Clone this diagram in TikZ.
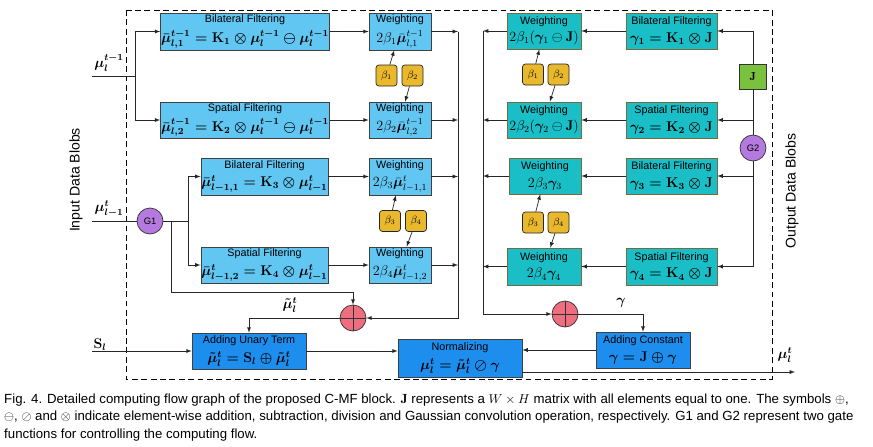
\documentclass[tikz,border=0pt]{standalone}
\usepackage{amsmath}
\usepackage{amssymb}
\usepackage{bm}
\usepackage{fontspec}
\setsansfont{Liberation Sans}
\usepackage{tikz}
\usetikzlibrary{positioning}

\definecolor{lblue}{HTML}{62C6F2}
\definecolor{tealbox}{HTML}{19BEC6}
\definecolor{dblue}{HTML}{1E8EEE}
\definecolor{betagold}{HTML}{E9B82C}
\definecolor{gatepurple}{HTML}{B57ADF}
\definecolor{pluspink}{HTML}{EE6E80}
\definecolor{jgreen}{HTML}{7AC23E}
\definecolor{tealline}{HTML}{7A6A3A}

\newcommand{\beq}[1]{{\large\boldmath$#1$}}
\newcommand{\weq}[1]{{\large$#1$}}
\newcommand{\lbl}[1]{{\large\boldmath$#1$}}

\tikzset{
    cmfbox/.style={draw=black!75, line width=0.6pt, align=center, inner sep=0.5pt,
        font=\sffamily\fontsize{9.2}{9.5}\selectfont},
    lbox/.style={cmfbox, fill=lblue},
    rbox/.style={cmfbox, fill=tealbox, draw=tealline},
    gbox/.style={cmfbox, fill=dblue},
    betabox/.style={draw=black!85, line width=0.6pt, fill=betagold, rounded corners=2.5pt,
        minimum size=0.63cm, inner sep=0pt, font=\small},
    gate/.style={circle, draw=black!80, line width=0.6pt, fill=gatepurple,
        minimum size=0.78cm, inner sep=0pt, font=\sffamily\fontsize{8}{9}\selectfont},
    plusnode/.style={circle, draw=black!80, line width=0.6pt, fill=pluspink,
        minimum size=0.78cm, inner sep=0pt,
        path picture={\draw[line width=0.6pt]
            (path picture bounding box.north) -- (path picture bounding box.south)
            (path picture bounding box.west) -- (path picture bounding box.east);}},
    jnode/.style={draw=black!80, line width=0.6pt, fill=jgreen,
        minimum width=0.81cm, minimum height=0.75cm, inner sep=0pt},
    flow/.style={->, >=latex, line width=0.6pt, draw=black!85},
    wire/.style={line width=0.6pt, draw=black!85}
}

\begin{document}
\begin{tikzpicture}[x=0.03cm, y=-0.03cm]
    \useasboundingbox (0,0) rectangle (873,446);
    \draw[dash pattern=on 5pt off 3pt, line width=0.7pt] (126,10) rectangle (772,379);

    % left half
    \node[lbox, minimum width=4.92cm, minimum height=1.11cm] (bf1) at (245,31.5)
        {Bilateral Filtering\\[3.5pt] \beq{\bar{\mu}_{l,1}^{t-1} = \mathbf{K}_1 \otimes \mu_l^{t-1} \ominus \mu_l^{t-1}}};
    \node[lbox, minimum width=1.86cm, minimum height=1.11cm] (wt1) at (400,31.5)
        {Weighting\\[3.5pt] \weq{2\beta_1\bar{\bm\mu}_{l,1}^{t-1}}};
    \node[lbox, minimum width=4.92cm, minimum height=1.08cm] (sf2) at (245,120)
        {Spatial Filtering\\[3.5pt] \beq{\bar{\mu}_{l,2}^{t-1} = \mathbf{K}_2 \otimes \mu_l^{t-1} \ominus \mu_l^{t-1}}};
    \node[lbox, minimum width=1.86cm, minimum height=1.08cm] (wt2) at (400,120)
        {Weighting\\[3.5pt] \weq{2\beta_2\bar{\bm\mu}_{l,2}^{t-1}}};
    \node[lbox, minimum width=3.75cm, minimum height=1.11cm] (bf3) at (264.5,176.5)
        {Bilateral Filtering\\[3.5pt] \beq{\bar{\mu}_{l-1,1}^{t} = \mathbf{K}_3 \otimes \mu_{l-1}^{t}}};
    \node[lbox, minimum width=1.86cm, minimum height=1.11cm] (wt3) at (400,176.5)
        {Weighting\\[3.5pt] \weq{2\beta_3\bar{\bm\mu}_{l-1,1}^{t}}};
    \node[lbox, minimum width=3.75cm, minimum height=1.08cm] (sf4) at (264.5,265)
        {Spatial Filtering\\[3.5pt] \beq{\bar{\mu}_{l-1,2}^{t} = \mathbf{K}_4 \otimes \mu_{l-1}^{t}}};
    \node[lbox, minimum width=1.86cm, minimum height=1.08cm] (wt4) at (400,265)
        {Weighting\\[3.5pt] \weq{2\beta_4\bar{\bm\mu}_{l-1,2}^{t}}};

    \node[betabox] (lb1) at (386.5,75.5) {$\beta_1$};
    \node[betabox] (lb2) at (412.5,75.5) {$\beta_2$};
    \node[betabox] (lb3) at (390,221) {$\beta_3$};
    \node[betabox] (lb4) at (416,221) {$\beta_4$};

    \node[gate] (g1) at (150,221) {G1};
    \node[plusnode] (p1) at (353,318) {};

    % right half
    \node[rbox, minimum width=2.22cm, minimum height=1.08cm] (rw1) at (544,31)
        {Weighting\\[3pt] \weq{2\beta_1(\bm\gamma_1 \ominus \mathbf{J})}};
    \node[rbox, minimum width=2.73cm, minimum height=1.08cm] (rb1) at (671.5,31)
        {Bilateral Filtering\\[4pt] \beq{\gamma_1 = \mathbf{K}_1 \otimes \mathbf{J}}};
    \node[rbox, minimum width=2.22cm, minimum height=1.08cm] (rw2) at (544,120)
        {Weighting\\[3pt] \weq{2\beta_2(\bm\gamma_2 \ominus \mathbf{J})}};
    \node[rbox, minimum width=2.73cm, minimum height=1.08cm] (rb2) at (671.5,120)
        {Spatial Filtering\\[4pt] \beq{\gamma_2 = \mathbf{K}_2 \otimes \mathbf{J}}};
    \node[rbox, minimum width=2.16cm, minimum height=1.08cm] (rw3) at (545,176)
        {Weighting\\[4pt] \weq{2\beta_3\bm\gamma_3}};
    \node[rbox, minimum width=2.73cm, minimum height=1.08cm] (rb3) at (671.5,176)
        {Bilateral Filtering\\[4pt] \beq{\gamma_3 = \mathbf{K}_3 \otimes \mathbf{J}}};
    \node[rbox, minimum width=2.22cm, minimum height=1.11cm] (rw4) at (544,266.5)
        {Weighting\\[4pt] \weq{2\beta_4\bm\gamma_4}};
    \node[rbox, minimum width=2.73cm, minimum height=1.11cm] (rb4) at (671.5,266.5)
        {Spatial Filtering\\[4pt] \beq{\gamma_4 = \mathbf{K}_4 \otimes \mathbf{J}}};

    \node[betabox] (rb1b) at (533,74.5) {$\beta_1$};
    \node[betabox] (rb2b) at (558.5,74.5) {$\beta_2$};
    \node[betabox] (rb3b) at (533,222.5) {$\beta_3$};
    \node[betabox] (rb4b) at (558.5,222.5) {$\beta_4$};

    \node[jnode] (jj) at (753,77) {$\mathbf{J}$};
    \node[gate] (g2) at (753,148) {G2};
    \node[plusnode] (p2) at (565,314) {};

    % bottom row
    \node[gbox, minimum width=3.42cm, minimum height=1.08cm] (au) at (249,351)
        {Adding Unary Term\\[4pt] \beq{\tilde{\mu}_l^t = \mathbf{S}_l \oplus \tilde{\mu}_l^t}};
    \node[gbox, minimum width=3.72cm, minimum height=1.14cm] (nm) at (460,358)
        {Normalizing\\[4pt] \beq{\mu_l^t = \tilde{\mu}_l^t \oslash \gamma}};
    \node[gbox, minimum width=2.82cm, minimum height=1.08cm] (ac) at (643,350)
        {Adding Constant\\[4pt] \beq{\gamma = \mathbf{J} \oplus \gamma}};

    % side labels
    \node[rotate=90, font=\sffamily\fontsize{12}{12}\selectfont] (inlab) at (76,180) {Input Data Blobs};
    \node[rotate=90, font=\sffamily\fontsize{12}{12}\selectfont] (outlab) at (792,191) {Output Data Blobs};

    % inputs and outputs
    \coordinate (in1) at (92,76);
    \coordinate (sp1) at (135,76);
    \coordinate (in2) at (92,221);
    \coordinate (sp2) at (188,221);
    \coordinate (c1) at (171,221);
    \coordinate (c2) at (353,292);
    \coordinate (in3) at (92,351);
    \coordinate (out) at (795,372);
    \coordinate (lbus) at (458,31.5);
    \coordinate (rbus) at (483,31);
    \node (lin1) at (109,63) {\lbl{\mu_l^{t-1}}};
    \node (lin2) at (109,209) {\lbl{\mu_{l-1}^{t}}};
    \node (lin3) at (100,345) {\lbl{\mathbf{S}_l}};
    \node (lout) at (785,355) {\lbl{\mu_l^{t}}};
    \node (lmu) at (290,305) {\lbl{\tilde{\mu}_l^{t}}};
    \node (lgam) at (621,303) {\lbl{\gamma}};

    % left connectors
    \draw[wire] (in1) -- (sp1);
    \draw[flow] (sp1) |- (bf1);
    \draw[flow] (sp1) |- (sf2);
    \draw[wire] (in2) -- (g1);
    \draw[wire] (g1) -- (sp2);
    \draw[flow] (sp2) |- (bf3);
    \draw[flow] (sp2) |- (sf4);
    \draw[flow] (c1) |- (c2) -- (p1);
    \foreach \a/\b in {bf1/wt1, sf2/wt2, bf3/wt3, sf4/wt4}
        \draw[flow] (\a) -- (\b);
    \foreach \w in {wt1, wt2, wt3, wt4}
        \draw[flow] (\w.east) -- (\w.east -| lbus);
    \draw[flow] (lbus) |- (p1);
    \draw[flow] (lb1) -- (wt1);
    \draw[flow] (lb2) -- (wt2);
    \draw[flow] (lb3) -- (wt3);
    \draw[flow] (lb4) -- (wt4);
    \draw[flow] (p1) -| (au);
    \draw[flow] (in3) -- (au);
    \draw[flow] (au.east) -- (au.east -| nm.west);

    % right connectors
    \draw[flow] (jj) |- (rb1);
    \draw[flow] (jj) |- (rb2);
    \draw[wire] (jj) -- (g2);
    \draw[flow] (g2) |- (rb3);
    \draw[flow] (g2) |- (rb4);
    \foreach \a/\b in {rb1/rw1, rb2/rw2, rb3/rw3, rb4/rw4}
        \draw[flow] (\a.west) -- (\a.west -| \b.east);
    \foreach \w in {rw1, rw2, rw3, rw4}
        \draw[flow] (\w.west) -- (\w.west -| rbus);
    \draw[flow] (rbus) |- (p2);
    \draw[flow] (rb1b) -- (rw1);
    \draw[flow] (rb2b) -- (rw2);
    \draw[flow] (rb3b) -- (rw3);
    \draw[flow] (rb4b) -- (rw4);
    \draw[flow] (p2) -| (ac);
    \draw[flow] (ac.west) -- (ac.west -| nm.east);
    \draw[flow] (nm.east |- out) -- (out);

    % caption
    \node[anchor=north west, align=left, inner sep=0pt,
        font=\sffamily\fontsize{11.3}{14.6}\selectfont] (cap) at (4,394)
        {Fig. 4. Detailed computing flow graph of the proposed C-MF block. $\mathbf{J}$ represents a $W\times H$ matrix with all elements equal to one. The symbols $\oplus$,\\
        $\ominus$, $\oslash$ and $\otimes$ indicate element-wise addition, subtraction, division and Gaussian convolution operation, respectively. G1 and G2 represent two gate\\
        functions for controlling the computing flow.};
\end{tikzpicture}
\end{document}
